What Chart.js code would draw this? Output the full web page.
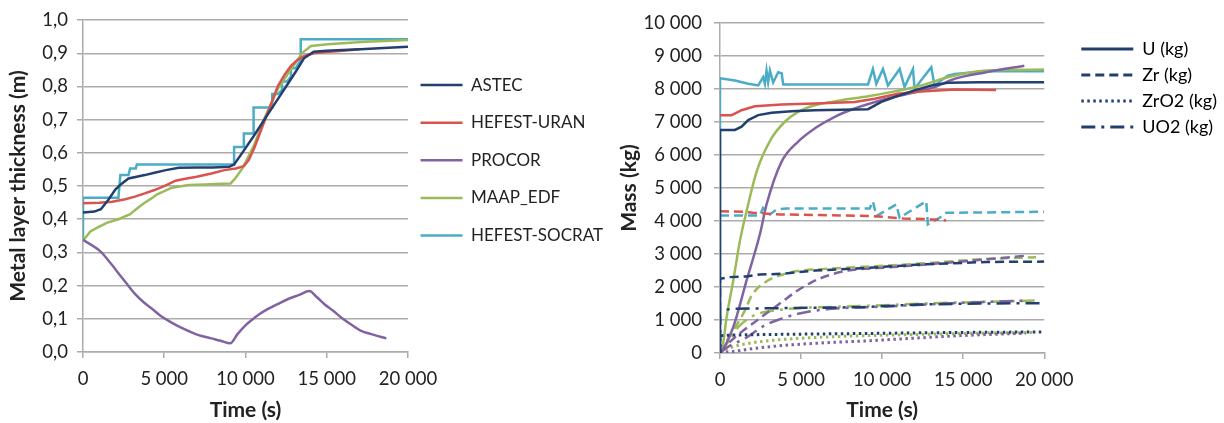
<!DOCTYPE html>
<html>
<head>
<meta charset="utf-8">
<script src="https://cdn.jsdelivr.net/npm/chart.js@4.4.1/dist/chart.umd.min.js"></script>
<style>
  html, body { margin: 0; padding: 0; background: #fff; }
  body { width: 1224px; height: 423px; position: relative; overflow: hidden; }
  #thick { position: absolute; left: 0; top: 0; }
  #mass { position: absolute; left: 600px; top: 0; }
</style>
</head>
<body>
<canvas id="thick" width="640" height="423"></canvas>
<canvas id="mass" width="624" height="423"></canvas>
<script>
// ---- left chart: metal layer thickness (m) vs time (s)
const codes = ['ASTEC', 'HEFEST-URAN', 'PROCOR', 'MAAP_EDF', 'HEFEST-SOCRAT'];

const thickAstecT = [0, 700, 1100, 1550, 2000, 2400, 2800, 3300, 3800, 4400, 5100, 5900, 7000, 8000, 9000, 9300, 9800, 10500, 11200, 11900, 12500, 13100, 13600, 14200, 15000, 16000, 17100, 18500, 20000];
const thickAstecV = [0.42, 0.423, 0.43, 0.458, 0.49, 0.508, 0.523, 0.528, 0.533, 0.54, 0.548, 0.555, 0.556, 0.556, 0.558, 0.565, 0.6, 0.65, 0.703, 0.755, 0.8, 0.845, 0.885, 0.905, 0.908, 0.91, 0.912, 0.916, 0.92];

const thickUranT = [0, 1000, 1800, 2600, 3200, 3800, 4400, 5000, 5700, 6300, 7000, 7900, 8700, 9400, 9900, 10200, 10530, 11150, 11600, 11980, 12400, 12800, 13200, 13620, 14200, 15000, 16000, 17000];
const thickUranV = [0.448, 0.45, 0.453, 0.46, 0.468, 0.478, 0.488, 0.5, 0.516, 0.522, 0.528, 0.538, 0.548, 0.553, 0.56, 0.578, 0.613, 0.693, 0.75, 0.8, 0.835, 0.862, 0.88, 0.892, 0.9, 0.904, 0.908, 0.912];

const thickProcorT = [0, 1070, 1690, 2300, 2720, 3200, 3750, 4300, 4770, 5400, 6010, 6600, 7240, 7900, 8480, 9050, 9510, 10000, 10330, 10800, 11360, 12000, 12590, 13300, 13930, 14400, 14860, 15400, 15890, 16500, 17120, 17740, 18670];
const thickProcorV = [0.338, 0.303, 0.268, 0.23, 0.204, 0.175, 0.149, 0.128, 0.109, 0.09, 0.074, 0.061, 0.049, 0.041, 0.034, 0.026, 0.054, 0.08, 0.094, 0.112, 0.129, 0.145, 0.159, 0.172, 0.184, 0.165, 0.144, 0.124, 0.104, 0.083, 0.064, 0.054, 0.041];

const thickMaapT = [0, 450, 940, 1500, 2180, 2900, 3210, 3750, 4230, 4570, 5470, 6500, 7500, 8500, 9090, 9400, 9810, 10530, 11150, 11980, 12800, 13520, 14030, 15060, 17120, 20000];
const thickMaapV = [0.335, 0.363, 0.376, 0.39, 0.4, 0.415, 0.428, 0.448, 0.463, 0.475, 0.495, 0.503, 0.505, 0.507, 0.508, 0.525, 0.553, 0.623, 0.702, 0.792, 0.852, 0.902, 0.922, 0.927, 0.934, 0.94];

const thickSocratT = [0, 0, 2180, 2300, 2800, 2900, 3250, 3310, 9070, 9300, 9300, 9900, 9900, 10500, 10500, 11650, 11650, 12000, 12250, 12250, 12550, 12800, 12800, 13100, 13400, 13400, 20000];
const thickSocratV = [0.335, 0.465, 0.465, 0.533, 0.533, 0.553, 0.553, 0.565, 0.565, 0.565, 0.618, 0.618, 0.658, 0.658, 0.737, 0.737, 0.777, 0.777, 0.79, 0.815, 0.815, 0.83, 0.855, 0.855, 0.88, 0.942, 0.942];

// ---- right chart: mass (kg) vs time (s)
const species = ['U', 'Zr', 'ZrO2', 'UO2'];

const uAstecT = [0, 0, 920, 1330, 1740, 2360, 3180, 4410, 5850, 9130, 9950, 10770, 12000, 13030, 14050, 16000, 20000];
const uAstecV = [0, 6760, 6760, 6860, 7060, 7210, 7280, 7330, 7360, 7390, 7610, 7760, 7960, 8110, 8190, 8210, 8210];
const zrAstecT = [0, 0, 615, 1640, 2460, 3800, 5850, 8720, 12310, 16410, 20000];
const zrAstecV = [0, 2250, 2300, 2320, 2380, 2400, 2500, 2570, 2680, 2760, 2770];
const zro2AstecT = [0, 0, 410, 2770, 8720, 14000, 20000];
const zro2AstecV = [0, 520, 540, 560, 590, 620, 640];
const uo2AstecT = [0, 0, 720, 3800, 8720, 12310, 16000, 20000];
const uo2AstecV = [0, 1280, 1340, 1360, 1390, 1470, 1500, 1510];

const uUranT = [0, 720, 1330, 2150, 3800, 5850, 8310, 9540, 10970, 12410, 14460, 17030];
const uUranV = [7210, 7210, 7360, 7480, 7530, 7560, 7610, 7710, 7860, 7930, 7990, 7970];
const zrUranT = [0, 1500, 2050, 3690, 6150, 9430, 11280, 13130, 13950];
const zrUranV = [4300, 4280, 4250, 4200, 4180, 4150, 4080, 4050, 4020];

const uProcorT = [0, 100, 820, 1640, 2460, 2870, 3800, 4820, 5850, 7080, 8310, 9950, 11590, 13230, 14460, 16410, 18770];
const uProcorV = [0, 40, 790, 2200, 3600, 4500, 5800, 6410, 6810, 7160, 7410, 7660, 7860, 8060, 8310, 8510, 8710];
const zrProcorT = [0, 510, 1330, 2150, 2970, 3800, 4620, 5640, 6670, 7900, 8920, 10260, 14360, 18870];
const zrProcorV = [0, 290, 640, 940, 1240, 1540, 1840, 2140, 2350, 2500, 2550, 2590, 2750, 2950];
const zro2ProcorT = [0, 720, 2150, 4200, 6870, 8720, 12000, 15000, 18870];
const zro2ProcorV = [0, 40, 140, 240, 320, 360, 450, 530, 600];
const uo2ProcorT = [0, 510, 1540, 2770, 3800, 4820, 6460, 10260, 14360, 18870];
const uo2ProcorV = [0, 190, 440, 840, 1040, 1190, 1320, 1410, 1510, 1590];

const uMaapT = [0, 100, 410, 820, 1230, 1640, 2260, 3180, 4000, 4820, 5850, 7490, 9130, 10770, 12410, 14050, 16410, 20000];
const uMaapV = [0, 40, 1090, 2200, 3400, 4300, 5500, 6510, 7010, 7310, 7510, 7660, 7780, 7930, 8110, 8360, 8560, 8590];
const zrMaapT = [0, 510, 1540, 1950, 2770, 4000, 5030, 6460, 8310, 12000, 16410, 19500];
const zrMaapV = [0, 440, 1290, 1740, 2140, 2400, 2500, 2550, 2600, 2700, 2850, 2900];
const zro2MaapT = [0, 510, 1740, 3380, 5430, 7900, 12000, 16000, 19500];
const zro2MaapV = [0, 140, 290, 390, 460, 510, 560, 600, 620];
const uo2MaapT = [0, 510, 1130, 1740, 2360, 3380, 4820, 6460, 10000, 14000, 19500];
const uo2MaapV = [0, 340, 790, 1040, 1190, 1290, 1360, 1390, 1450, 1520, 1590];

const uSocratT = [0, 0, 920, 1740, 2360, 2660, 2770, 2870, 2970, 3080, 3280, 3590, 3800, 3900, 9130, 9430, 9640, 10050, 10360, 11080, 11380, 11900, 12000, 13030, 13230, 14050, 14460, 16410, 20000];
const uSocratV = [0, 8330, 8260, 8160, 8110, 8360, 8160, 8560, 8210, 8560, 8200, 8510, 8480, 8140, 8140, 8610, 8160, 8610, 8110, 8610, 8060, 8610, 8010, 8660, 8110, 8410, 8460, 8540, 8540];
const zrSocratT = [0, 2460, 2660, 3080, 3490, 4100, 9230, 9430, 9640, 10870, 11080, 12720, 12820, 13540, 13950, 20000];
const zrSocratV = [4170, 4170, 4400, 4200, 4350, 4380, 4380, 4600, 4150, 4500, 4100, 4600, 3900, 4100, 4250, 4280];

const timeTicks = [0, 5000, 10000, 15000, 20000];

// ---- styling
const colors = {
  'ASTEC': '#233f6f',
  'HEFEST-URAN': '#d9534f',
  'PROCOR': '#8064a2',
  'MAAP_EDF': '#9bbb59',
  'HEFEST-SOCRAT': '#4bacc6'
};
const smoothCodes = ['PROCOR', 'MAAP_EDF'];
const dashes = { U: [], Zr: [9, 5], ZrO2: [2.5, 3.5], UO2: [14, 6, 3, 6] };

const fontFamily = 'Lato, "Open Sans", sans-serif';
const textColor = '#222';
const gridColor = '#ababab';

const pts = (t, v) => t.map((x, i) => ({ x: x, y: v[i] }));
const spaced = (v) => String(Math.round(v)).replace(/\B(?=(\d{3})+(?!\d))/g, ' ');

// nudges the legend only while it is drawn, so the shift never accumulates
function moveLegend(lg, dx, dy) {
  if (!lg) return;
  lg.left += dx; lg.right += dx;
  lg.top += dy; lg.bottom += dy;
}
const legendShift = {
  id: 'legendShift',
  beforeDraw(chart, args, opts) { moveLegend(chart.legend, opts.dx || 0, opts.dy || 0); },
  afterDraw(chart, args, opts) { moveLegend(chart.legend, -(opts.dx || 0), -(opts.dy || 0)); }
};

const tickFont = { family: fontFamily, size: 18.5 };
const titleFont = { family: fontFamily, size: 21, weight: 'bold' };

function timeAxis(height) {
  return {
    type: 'linear', min: 0, max: 20000,
    afterBuildTicks: (s) => { s.ticks = timeTicks.map((v) => ({ value: v })); },
    afterFit: (s) => { s.height = height; },
    grid: { drawOnChartArea: false, drawTicks: true, tickLength: 6, color: gridColor, lineWidth: 1.5 },
    border: { color: gridColor, width: 1.5 },
    ticks: { padding: 10, color: textColor, font: tickFont, callback: (v) => spaced(v) },
    title: { display: true, text: 'Time (s)', color: textColor, padding: { top: 0, bottom: 0 }, font: titleFont }
  };
}

// ---- left chart
const thickSeries = [
  [thickAstecT, thickAstecV],
  [thickUranT, thickUranV],
  [thickProcorT, thickProcorV],
  [thickMaapT, thickMaapV],
  [thickSocratT, thickSocratV]
];

new Chart(document.getElementById('thick'), {
  type: 'line',
  data: {
    datasets: thickSeries.map((s, i) => ({
      label: codes[i],
      data: pts(s[0], s[1]),
      borderColor: colors[codes[i]],
      backgroundColor: colors[codes[i]],
      borderWidth: 2.5,
      pointRadius: 0,
      tension: 0,
      cubicInterpolationMode: codes[i] === 'PROCOR' ? 'monotone' : 'default'
    }))
  },
  options: {
    responsive: false,
    animation: false,
    layout: { padding: { top: 17, right: 19, bottom: 0, left: 0 } },
    plugins: {
      legend: {
        position: 'right',
        align: 'start',
        maxWidth: 300,
        onClick: () => {},
        labels: {
          usePointStyle: true, pointStyle: 'line', pointStyleWidth: 42,
          padding: 20.6, color: textColor,
          font: { family: fontFamily, size: 17 }
        }
      },
      legendShift: { dx: -8, dy: 39 },
      tooltip: { enabled: false }
    },
    scales: {
      x: timeAxis(71),
      y: {
        type: 'linear', min: 0, max: 1,
        afterFit: (s) => { s.width = 83; },
        grid: { color: gridColor, lineWidth: 1.5, tickLength: 6 },
        border: { color: gridColor, width: 1.5 },
        ticks: { stepSize: 0.1, padding: 9, color: textColor, font: tickFont,
          callback: (v) => v.toFixed(1).replace('.', ',') },
        title: { display: true, text: 'Metal layer thickness (m)', color: textColor, padding: { top: 6 }, font: titleFont }
      }
    }
  },
  plugins: [legendShift]
});

// ---- right chart
const massSeries = [
  ['ASTEC', 'U', uAstecT, uAstecV],
  ['ASTEC', 'Zr', zrAstecT, zrAstecV],
  ['ASTEC', 'ZrO2', zro2AstecT, zro2AstecV],
  ['ASTEC', 'UO2', uo2AstecT, uo2AstecV],
  ['HEFEST-URAN', 'U', uUranT, uUranV],
  ['HEFEST-URAN', 'Zr', zrUranT, zrUranV],
  ['PROCOR', 'U', uProcorT, uProcorV],
  ['PROCOR', 'Zr', zrProcorT, zrProcorV],
  ['PROCOR', 'ZrO2', zro2ProcorT, zro2ProcorV],
  ['PROCOR', 'UO2', uo2ProcorT, uo2ProcorV],
  ['MAAP_EDF', 'U', uMaapT, uMaapV],
  ['MAAP_EDF', 'Zr', zrMaapT, zrMaapV],
  ['MAAP_EDF', 'ZrO2', zro2MaapT, zro2MaapV],
  ['MAAP_EDF', 'UO2', uo2MaapT, uo2MaapV],
  ['HEFEST-SOCRAT', 'U', uSocratT, uSocratV],
  ['HEFEST-SOCRAT', 'Zr', zrSocratT, zrSocratV]
];

new Chart(document.getElementById('mass'), {
  type: 'line',
  data: {
    datasets: massSeries.map((s) => ({
      label: s[0] + ' ' + s[1],
      data: pts(s[2], s[3]),
      borderColor: colors[s[0]],
      borderWidth: s[1] === 'ZrO2' ? 3 : 2.5,
      borderDash: dashes[s[1]],
      pointRadius: 0,
      tension: 0,
      cubicInterpolationMode: smoothCodes.includes(s[0]) ? 'monotone' : 'default'
    }))
  },
  options: {
    responsive: false,
    animation: false,
    layout: { padding: { top: 21, right: 26, bottom: 0, left: 0 } },
    plugins: {
      legend: {
        position: 'right',
        align: 'start',
        maxWidth: 300,
        onClick: () => {},
        labels: {
          usePointStyle: true, pointStyle: 'line', pointStyleWidth: 52,
          padding: 8, color: textColor,
          font: { family: fontFamily, size: 18 },
          generateLabels: () => species.map((sp) => ({
            text: sp + ' (kg)',
            strokeStyle: colors['ASTEC'],
            fillStyle: colors['ASTEC'],
            lineWidth: 3,
            lineDash: dashes[sp],
            pointStyle: 'line',
            hidden: false
          }))
        }
      },
      legendShift: { dx: 29, dy: 11 },
      tooltip: { enabled: false }
    },
    scales: {
      x: timeAxis(70),
      y: {
        type: 'linear', min: 0, max: 10000,
        afterFit: (s) => { s.width = 120; },
        grid: { color: gridColor, lineWidth: 1.5, tickLength: 6 },
        border: { color: gridColor, width: 1.5 },
        ticks: { stepSize: 1000, padding: 12, color: textColor, font: tickFont,
          callback: (v) => spaced(v) },
        title: { display: true, text: 'Mass (kg)', color: textColor, padding: { top: 17 }, font: titleFont }
      }
    }
  },
  plugins: [legendShift]
});
</script>
</body>
</html>
